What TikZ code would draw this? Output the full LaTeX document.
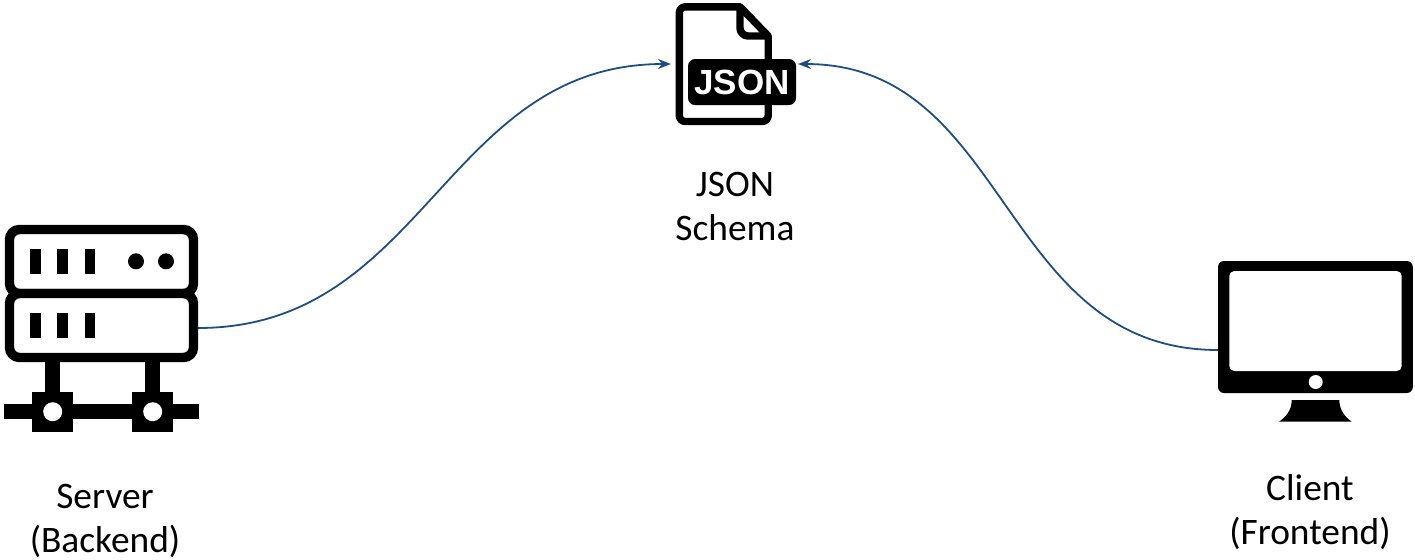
\documentclass[tikz,border=0pt]{standalone}
\usepackage{fontspec}
\setmainfont{Carlito}
\newfontfamily\badgefont{Liberation Sans}
\usetikzlibrary{arrows.meta}

\begin{document}
\begin{tikzpicture}[x=0.5pt, y=-0.5pt, >={Stealth[length=6.5pt,width=5pt]},
    label/.style={align=center, font=\fontsize{18.7}{22}\selectfont, text=black},
    link/.style={->, draw=linkblue, line width=0.9pt},
    rack/.style={draw=black, fill=white, line width=4.7pt, rounded corners=5pt, inner sep=0pt,
      minimum width=92pt, minimum height=32pt},
    badge/.style={fill=black, text=white, rounded corners=3.5pt, inner sep=0pt,
      minimum width=54pt, minimum height=23pt, font=\badgefont\bfseries\fontsize{17.5}{18}\selectfont},
    docline/.style={draw=black, line width=3.7pt, line join=round},
  ]
  \definecolor{linkblue}{HTML}{1F4E85}
  \useasboundingbox (0,0) rectangle (1415,559);

  % json file icon
  \draw[docline, fill=white, rounded corners=3pt] (740,6.8) -- (679.3,6.8) -- (679.3,121.5) -- (768.2,121.5) -- (768.2,36);
  \draw[docline, fill=white] (740,6.8) -- (768.2,36) -- (768.2,36) -- cycle;
  \draw[docline, rounded corners=4pt] (740,6.8) -- (740,36) -- (768.2,36);
  \node[badge] (jsonbadge) at (742,82) {JSON};
  \coordinate (schemaleft) at (671,64);
  \coordinate (schemaright) at (798,64);

  % server icon
  \foreach \x in {52.7,152.7} {
    \fill (\x-7.3,355) rectangle (\x+7.3,395);
    \fill (\x-20.5,391.7) rectangle (\x+20.5,431.7);
  }
  \fill (4.3,404) rectangle (198.7,419);
  \foreach \x in {52.7,152.7}
    \fill[white] (\x,411.7) circle[radius=9.5];
  \node[rack] (servertop) at (101.5,261.5) {};
  \node[rack] (serverbottom) at (101.5,325.5) {};
  \foreach \x in {35.3,62.5,89.7} {
    \fill (\x-5.2,248.7) rectangle (\x+5.2,274.3);
    \fill (\x-5.2,312.7) rectangle (\x+5.2,338.3);
  }
  \foreach \x in {136,166}
    \fill (\x,261.3) circle[radius=8];
  \coordinate (serverport) at (198,328);

  % client icon
  \node[fill=black, rounded corners=3pt, inner sep=0pt, minimum width=97.4pt, minimum height=66pt] (clientscreen) at (1315.4,327) {};
  \fill[white, rounded corners=2.5pt] (1229.3,271) rectangle (1401.7,371);
  \fill[white] (1315.7,382) circle[radius=7];
  \fill (1291.7,400) -- (1339.3,400) .. controls (1339.3,410) and (1345,417) .. (1351.7,421.7)
    -- (1279,421.7) .. controls (1286,417) and (1291.7,410) .. (1291.7,400) -- cycle;
  \coordinate (clientport) at (1218,350);

  % labels
  \node[label] (serverlabel) at (105,520.5) {Server\\(Backend)};
  \node[label] (schemalabel) at (735,206) {JSON\\Schema};
  \node[label] (clientlabel) at (1310,512.5) {Client\\(Frontend)};

  % links
  \draw[link] (serverport) .. controls (425,328) and (445,64) .. (schemaleft);
  \draw[link] (clientport) .. controls (1000,350) and (1010,64) .. (schemaright);
\end{tikzpicture}
\end{document}
